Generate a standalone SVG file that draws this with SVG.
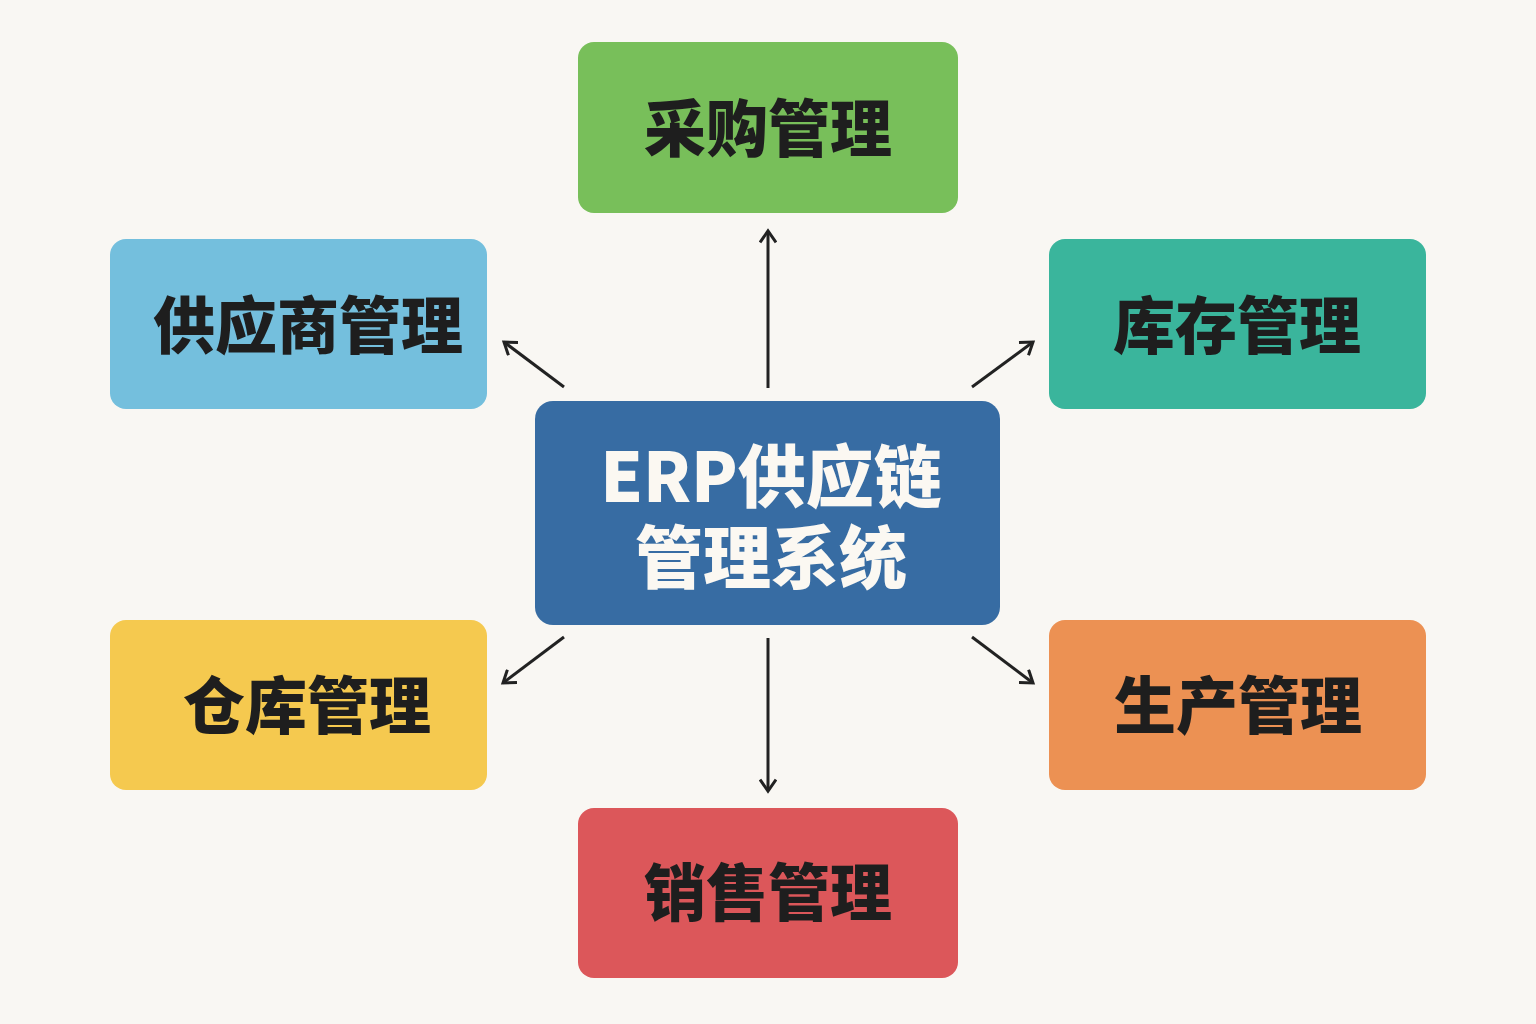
<svg xmlns="http://www.w3.org/2000/svg" width="1536" height="1024" viewBox="0 0 1536 1024">
<style>
.lbl{font-family:"Noto Sans CJK SC","Noto Sans",sans-serif;font-weight:900;font-size:62px;fill:#1e1e1e;text-anchor:middle;dominant-baseline:central}
.ctr{font-family:"Noto Sans CJK SC","Noto Sans",sans-serif;font-weight:900;font-size:68px;fill:#fbf8f2;text-anchor:middle;dominant-baseline:central}
.con{stroke:#222;stroke-width:3;fill:none;marker-end:url(#ah)}
</style>
<defs>
<marker id="ah" viewBox="0 0 16 18" refX="13" refY="9" markerWidth="16" markerHeight="18" markerUnits="userSpaceOnUse" orient="auto">
<path d="M1.5,1 L13,9 L1.5,17" fill="none" stroke="#222" stroke-width="3"/>
</marker>
</defs>
<rect width="1536" height="1024" fill="#f9f7f3"/>
<g id="connectors">
<line class="con" x1="768" y1="388" x2="768" y2="231"/>
<line class="con" x1="564" y1="387" x2="504" y2="342"/>
<line class="con" x1="972" y1="387" x2="1033" y2="342"/>
<line class="con" x1="564" y1="637" x2="503" y2="683"/>
<line class="con" x1="768" y1="638" x2="768" y2="791"/>
<line class="con" x1="972" y1="637" x2="1033" y2="683"/>
</g>
<g id="center">
<rect x="535" y="401" width="465" height="224" rx="18" fill="#376ca3"/>
<text class="ctr"><tspan x="771" y="472">ERP供应链</tspan><tspan x="771" y="553">管理系统</tspan></text>
</g>
<g id="procurement">
<rect x="578" y="42" width="380" height="171" rx="16" fill="#78bf5a"/>
<text class="lbl" x="768" y="125">采购管理</text>
</g>
<g id="supplier">
<rect x="110" y="239" width="377" height="170" rx="16" fill="#74bfdd"/>
<text class="lbl" x="308" y="322">供应商管理</text>
</g>
<g id="inventory">
<rect x="1049" y="239" width="377" height="170" rx="16" fill="#3ab59c"/>
<text class="lbl" x="1237" y="322">库存管理</text>
</g>
<g id="warehouse">
<rect x="110" y="620" width="377" height="170" rx="16" fill="#f5c94f"/>
<text class="lbl" x="307" y="702">仓库管理</text>
</g>
<g id="production">
<rect x="1049" y="620" width="377" height="170" rx="16" fill="#ec9153"/>
<text class="lbl" x="1238" y="702">生产管理</text>
</g>
<g id="sales">
<rect x="578" y="808" width="380" height="170" rx="16" fill="#dc575a"/>
<text class="lbl" x="768" y="889">销售管理</text>
</g>
</svg>
